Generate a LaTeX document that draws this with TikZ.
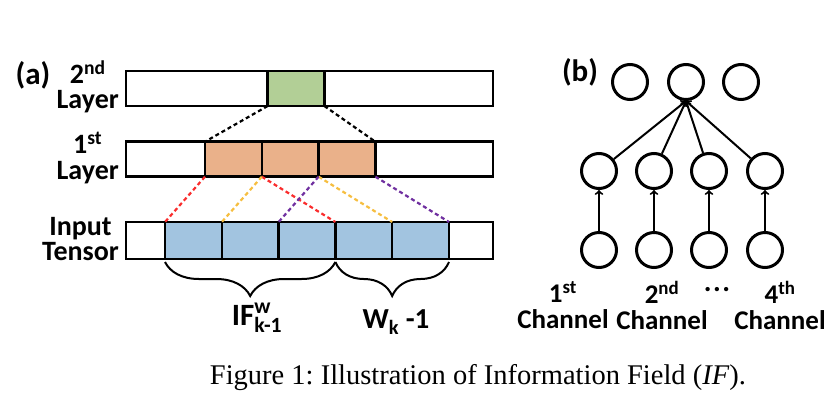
\documentclass[tikz,border=0pt]{standalone}
\usepackage{amsmath}
\usepackage{fontspec}
\setmainfont{Liberation Serif}
\newfontfamily\labelfont{Carlito}
\usetikzlibrary{decorations.pathreplacing}

\definecolor{greencell}{RGB}{178,207,150}
\definecolor{orangecell}{RGB}{234,177,138}
\definecolor{bluecell}{RGB}{162,196,224}
\definecolor{dashred}{RGB}{250,45,45}
\definecolor{dashyellow}{RGB}{246,190,64}
\definecolor{dashpurple}{RGB}{112,48,160}

\tikzset{
    lbl/.style={font=\labelfont\bfseries\fontsize{28}{25}\selectfont, align=center, inner sep=0pt},
    chan/.style={font=\labelfont\bfseries\fontsize{27}{26}\selectfont, align=center, inner sep=0pt},
    bar/.style={draw, line width=2.5pt, inner sep=0pt, outer sep=0pt, minimum width=367pt},
    cell/.style={draw, line width=2.5pt, inner sep=0pt, outer sep=0pt, minimum width=56.8pt},
    link/.style={line width=2.2pt, dash pattern=on 4pt off 3pt},
    curly/.style={line width=2pt, decorate, decoration={brace, mirror, amplitude=34pt}},
    neuron/.style={circle, draw, line width=3pt, minimum size=35pt, inner sep=0pt},
    feed/.style={line width=2pt, ->}
}

\begin{document}
\frenchspacing
\begin{tikzpicture}[x=1pt, y=-1pt]
        \useasboundingbox (0,0) rectangle (832,402);

        \node[bar, minimum height=35.3pt] (l2) at (309.5, 88.4) {};
        \node[bar, minimum height=35pt] (l1) at (309.5, 159.2) {};
        \node[bar, minimum height=37pt] (in) at (309.5, 240.5) {};

        \node[cell, fill=greencell, minimum height=35.3pt] (g) at (296, 88.4) {};

        \node[cell, fill=orangecell, minimum height=35pt] (o1) at (233.4, 159.2) {};
        \node[cell, fill=orangecell, minimum height=35pt] (o2) at (290.2, 159.2) {};
        \node[cell, fill=orangecell, minimum height=35pt] (o3) at (347.0, 159.2) {};

        \node[cell, fill=bluecell, minimum height=37pt] (b1) at (193.4, 240.5) {};
        \node[cell, fill=bluecell, minimum height=37pt] (b2) at (250.2, 240.5) {};
        \node[cell, fill=bluecell, minimum height=37pt] (b3) at (307.0, 240.5) {};
        \node[cell, fill=bluecell, minimum height=37pt] (b4) at (363.8, 240.5) {};
        \node[cell, fill=bluecell, minimum height=37pt] (b5) at (420.6, 240.5) {};

        \draw[link, black] (g.south west) -- (o1.north west);
        \draw[link, black] (g.south east) -- (o3.north east);
        \draw[link, dashred] (o1.south west) -- (b1.north west);
        \draw[link, dashred] (o2.south west) -- (b4.north west);
        \draw[link, dashyellow] (o2.south west) -- (b2.north west);
        \draw[link, dashyellow] (o3.south west) -- (b5.north west);
        \draw[link, dashpurple] (o3.south west) -- (b3.north west);
        \draw[link, dashpurple] (o3.south east) -- (b5.north east);

        \draw[curly] ([yshift=-3pt]b1.south west) -- ([yshift=-3pt]b3.south east);
        \draw[curly] ([yshift=-3pt]b4.south west) -- ([yshift=-3pt]b5.south east);

        \node[lbl, font=\labelfont\bfseries\fontsize{31}{31}\selectfont] (a) at (33, 75) {(a)};
        \node[lbl, anchor=east] (t2nd) at (119, 87) {2\textsuperscript{nd}\\Layer};
        \node[lbl, anchor=east] (t1st) at (119, 158) {1\textsuperscript{st}\\Layer};
        \node[lbl, anchor=east] (tin) at (119, 239) {Input\\Tensor};
        \node[lbl, font=\labelfont\bfseries\fontsize{31}{31}\selectfont] (ifw) at (257, 318) {$\text{IF}^{\text{w}}_{\text{k-1}}$};
        \node[lbl, font=\labelfont\bfseries\fontsize{29}{29}\selectfont] (wk) at (396, 322) {W\textsubscript{k} -1};

        \node[neuron] (t1) at (630, 82) {};
        \node[neuron] (t2) at (686, 82) {};
        \node[neuron] (t3) at (741, 82) {};
        \node[neuron] (m1) at (599, 171) {};
        \node[neuron] (m2) at (654, 171) {};
        \node[neuron] (m3) at (709, 171) {};
        \node[neuron] (m4) at (765, 171) {};
        \node[neuron] (n1) at (599, 250) {};
        \node[neuron] (n2) at (654, 250) {};
        \node[neuron] (n3) at (709, 250) {};
        \node[neuron] (n4) at (765, 250) {};

        \draw[feed] (m1) -- (t2.south);
        \draw[feed] (m2) -- (t2.south);
        \draw[feed] (m3) -- (t2.south);
        \draw[feed] (m4) -- (t2.south);
        \draw[feed] (n1) -- (m1);
        \draw[feed] (n2) -- (m2);
        \draw[feed] (n3) -- (m3);
        \draw[feed] (n4) -- (m4);

        \node[lbl, font=\labelfont\bfseries\fontsize{31}{31}\selectfont] (b) at (580, 72) {(b)};
        \node[chan] (c1) at (563, 305) {1\textsuperscript{st}\\Channel};
        \node[chan] (c2) at (662, 305) {2\textsuperscript{nd}\\Channel};
        \node[chan, font=\labelfont\bfseries\fontsize{29}{26}\selectfont] (dots) at (717, 290) {.\kern1.5pt.\kern1.5pt.};
        \node[chan] (c4) at (780, 305) {4\textsuperscript{th}\\Channel};

        \node[font=\fontsize{28.5}{29}\selectfont] (cap) at (478, 378) {Figure 1: Illustration of Information Field (\textit{IF}).};

    \end{tikzpicture}
\end{document}
